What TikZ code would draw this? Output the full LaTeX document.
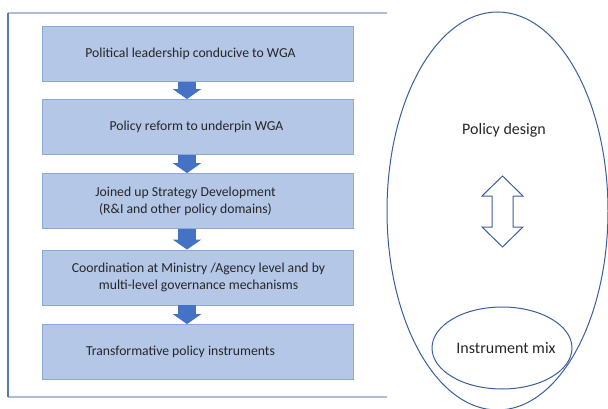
\documentclass[tikz,border=0pt]{standalone}
\usepackage{fontspec}
\setmainfont{Carlito}
\usepackage{tikz}
\usetikzlibrary{arrows.meta, calc, shapes.geometric}

\definecolor{boxfill}{HTML}{B4C7E7}
\definecolor{boxline}{HTML}{8EA8D6}
\definecolor{flowblue}{HTML}{4472C4}
\definecolor{ringblue}{HTML}{3B5D9C}
\definecolor{framelight}{HTML}{AFBCD6}
\definecolor{frameleft}{HTML}{5878B8}
\definecolor{ink}{HTML}{262626}

\tikzset{
  stagebox/.style={draw=boxline, fill=boxfill, line width=0.8pt,
    minimum width=311pt, minimum height=55pt, inner sep=0pt},
  stagetext/.style={text=ink, font=\fontsize{13.7}{17}\selectfont, align=center, inner sep=0pt},
  ringtext/.style={text=ink, font=\fontsize{16}{19}\selectfont, inner sep=0pt},
  flow/.style={flowblue, line width=18pt, -{Triangle[width=28pt,length=10pt]}},
  ring/.style={draw=ringblue, line width=1pt, ellipse, inner sep=0pt}
}

\begin{document}
\begin{tikzpicture}[x=1pt, y=-1pt]
	\useasboundingbox (0,0) rectangle (608,409);
	\clip (0,0) rectangle (608,409);

	% open frame round the five stages
	\draw[framelight, line width=1.5pt] (387,13) -- (8,13);
	\draw[framelight, line width=1.5pt] (8,397) -- (387,397);
	\draw[frameleft, line width=1.2pt] (8,13) -- (8,397);

	% stages
	\node[stagebox] (b1) at (197.5,54) {};
	\node[stagebox] (b2) at (197.5,127) {};
	\node[stagebox] (b3) at (197.5,201) {};
	\node[stagebox] (b4) at (197.5,277.5) {};
	\node[stagebox] (b5) at (197.5,352) {};

	\node[stagetext] (t1) at ($(b1)+(-7,0)$) {Political leadership conducive to WGA};
	\node[stagetext] (t2) at ($(b2)+(-1,0)$) {Policy reform to underpin WGA};
	\node[stagetext] (t3) at ($(b3)+(-12,0)$) {Joined up Strategy Development\\(R\&I and other policy domains)};
	\node[stagetext] (t4) at ($(b4)+(1,0)$) {Coordination at Ministry /Agency level and by\\multi-level governance mechanisms};
	\node[stagetext] (t5) at ($(b5)+(-17,0)$) {Transformative policy instruments};

	\foreach \a/\b in {b1/b2, b2/b3, b3/b4, b4/b5}
		\draw[flow] ([xshift=-10.5pt]\a.south) -- ([xshift=-10.5pt]\b.north);

	% design and instruments
	\node[ring, minimum width=221pt, minimum height=398pt] (design) at (497.5,211) {};
	\node[ringtext] (dtext) at (504,130) {Policy design};
	\node[ring, minimum width=140pt, minimum height=82pt] (mix) at (502,348) {};
	\node[ringtext] (mtext) at ($(mix)+(4,0)$) {Instrument mix};

	\coordinate (m) at (502.5,211.5);
	\draw[ringblue, line width=1pt, fill=white, line join=miter]
		($(m)+(0,-35.5)$) -- ($(m)+(20.5,-15.5)$) -- ($(m)+(10.5,-15.5)$)
		-- ($(m)+(10.5,15.5)$) -- ($(m)+(20.5,15.5)$) -- ($(m)+(0,35.5)$)
		-- ($(m)+(-20.5,15.5)$) -- ($(m)+(-10.5,15.5)$) -- ($(m)+(-10.5,-15.5)$)
		-- ($(m)+(-20.5,-15.5)$) -- cycle;

\end{tikzpicture}
\end{document}
